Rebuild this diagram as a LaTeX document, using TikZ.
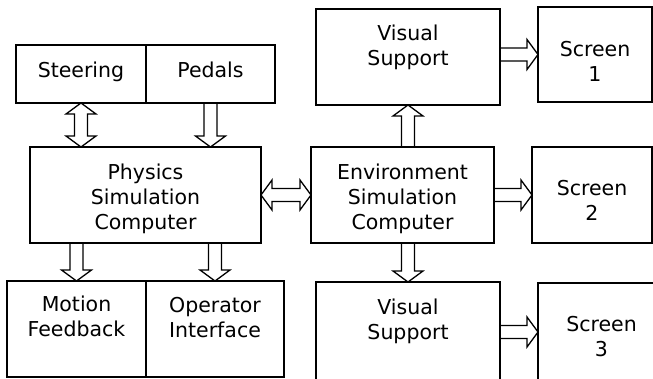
\documentclass[tikz,border=0pt]{standalone}
\usepackage{fontspec}
\setmainfont{DejaVu Sans}
\usetikzlibrary{positioning, calc}

\newcommand{\boxfont}{\fontsize{20.5}{25}\selectfont}
\newcommand{\shaftw}{6.5pt}
\newcommand{\headw}{15pt}
\newcommand{\headl}{11pt}

% hollow block arrow with one head
\newcommand{\hollowarrow}[2]{%
  \coordinate (ha-a) at (#1);
  \coordinate (ha-b) at (#2);
  \coordinate (ha-n) at ($(ha-b)!\headl!(ha-a)$);
  \draw[blockarrow] ($(ha-a)!\shaftw!90:(ha-b)$) -- ($(ha-n)!\shaftw!90:(ha-b)$) -- ($(ha-n)!\headw!90:(ha-b)$) -- (ha-b)
    -- ($(ha-n)!\headw!-90:(ha-b)$) -- ($(ha-n)!\shaftw!-90:(ha-b)$) -- ($(ha-a)!\shaftw!-90:(ha-b)$);
}
% hollow block arrow with two heads
\newcommand{\hollowdarrow}[2]{%
  \coordinate (ha-a) at (#1);
  \coordinate (ha-b) at (#2);
  \coordinate (ha-m) at ($(ha-a)!\headl!(ha-b)$);
  \coordinate (ha-n) at ($(ha-b)!\headl!(ha-a)$);
  \draw[blockarrow] (ha-a) -- ($(ha-m)!\headw!90:(ha-b)$) -- ($(ha-m)!\shaftw!90:(ha-b)$) -- ($(ha-n)!\shaftw!90:(ha-b)$)
    -- ($(ha-n)!\headw!90:(ha-b)$) -- (ha-b) -- ($(ha-n)!\headw!-90:(ha-b)$) -- ($(ha-n)!\shaftw!-90:(ha-b)$)
    -- ($(ha-m)!\shaftw!-90:(ha-b)$) -- ($(ha-m)!\headw!-90:(ha-b)$) -- cycle;
}

\begin{document}
\begin{tikzpicture}[x=1pt, y=-1pt,
        box/.style={rectangle, draw=black, line width=1.8pt, outer sep=0pt, inner sep=0pt},
        boxtext/.style={inner sep=0pt, align=center, font=\boxfont},
        blockarrow/.style={draw=black, line width=1.3pt, line join=miter}
        ]
        \useasboundingbox (0,0) rectangle (653,378);
        \clip (0,0) rectangle (653,378);

        % driver side
        \node[box, minimum width=130pt, minimum height=58pt] (steer) at (81,74) {};
        \node[box, minimum width=129pt, minimum height=58pt, right=0pt of steer] (pedals) {};
        \node[box, minimum width=231pt, minimum height=96pt] (phys) at (145.5,195) {};
        \node[box, minimum width=139pt, minimum height=96pt] (motion) at (76.5,329) {};
        \node[box, minimum width=138pt, minimum height=96pt, right=0pt of motion] (oper) {};

        \node[boxtext, below=17pt of steer.north] (steer-t) {Steering};
        \node[boxtext, below=17pt of pedals.north] (pedals-t) {Pedals};
        \node[boxtext, below=17pt of phys.north] (phys-t) {Physics\\Simulation\\Computer};
        \node[boxtext, below=15pt of motion.north] (motion-t) {Motion\\Feedback};
        \node[boxtext, below=16pt of oper.north] (oper-t) {Operator\\Interface};

        % display side
        \node[box, minimum width=183pt, minimum height=96pt] (env) at (402.5,195) {};
        \node[box, minimum width=184pt, minimum height=96pt] (vis1) at (408,57) {};
        \node[box, minimum width=184pt, minimum height=110pt] (vis3) at (408,337) {};
        \node[box, minimum width=114pt, minimum height=95pt] (scr1) at (595,54.5) {};
        \node[box, minimum width=120pt, minimum height=96pt] (scr2) at (592,195) {};
        \node[box, minimum width=127pt, minimum height=110pt] (scr3) at (601.5,338) {};

        \node[boxtext, below=17pt of env.north] (env-t) {Environment\\Simulation\\Computer};
        \node[boxtext, below=16pt of vis1.north] (vis1-t) {Visual\\Support};
        \node[boxtext, below=17pt of vis3.north] (vis3-t) {Visual\\Support};
        \node[boxtext, below=34pt of scr1.north] (scr1-t) {Screen\\1};
        \node[boxtext, below=33pt of scr2.north] (scr2-t) {Screen\\2};
        \node[boxtext, below=33pt of scr3.north] (scr3-t) {Screen\\3};

        \hollowdarrow{steer.south}{steer.south |- phys.north}
        \hollowarrow{pedals.south}{pedals.south |- phys.north}
        \hollowarrow{phys.south -| motion.north}{motion.north}
        \hollowarrow{phys.south -| oper.north}{oper.north}
        \hollowdarrow{phys.east}{env.west}
        \hollowarrow{env.north -| vis1.south}{vis1.south}
        \hollowarrow{env.south -| vis3.north}{vis3.north}
        \hollowarrow{vis1.east |- scr1.west}{scr1.west}
        \hollowarrow{env.east}{scr2.west}
        \hollowarrow{vis3.east |- 0,332}{scr3.west |- 0,332}
    \end{tikzpicture}
\end{document}
